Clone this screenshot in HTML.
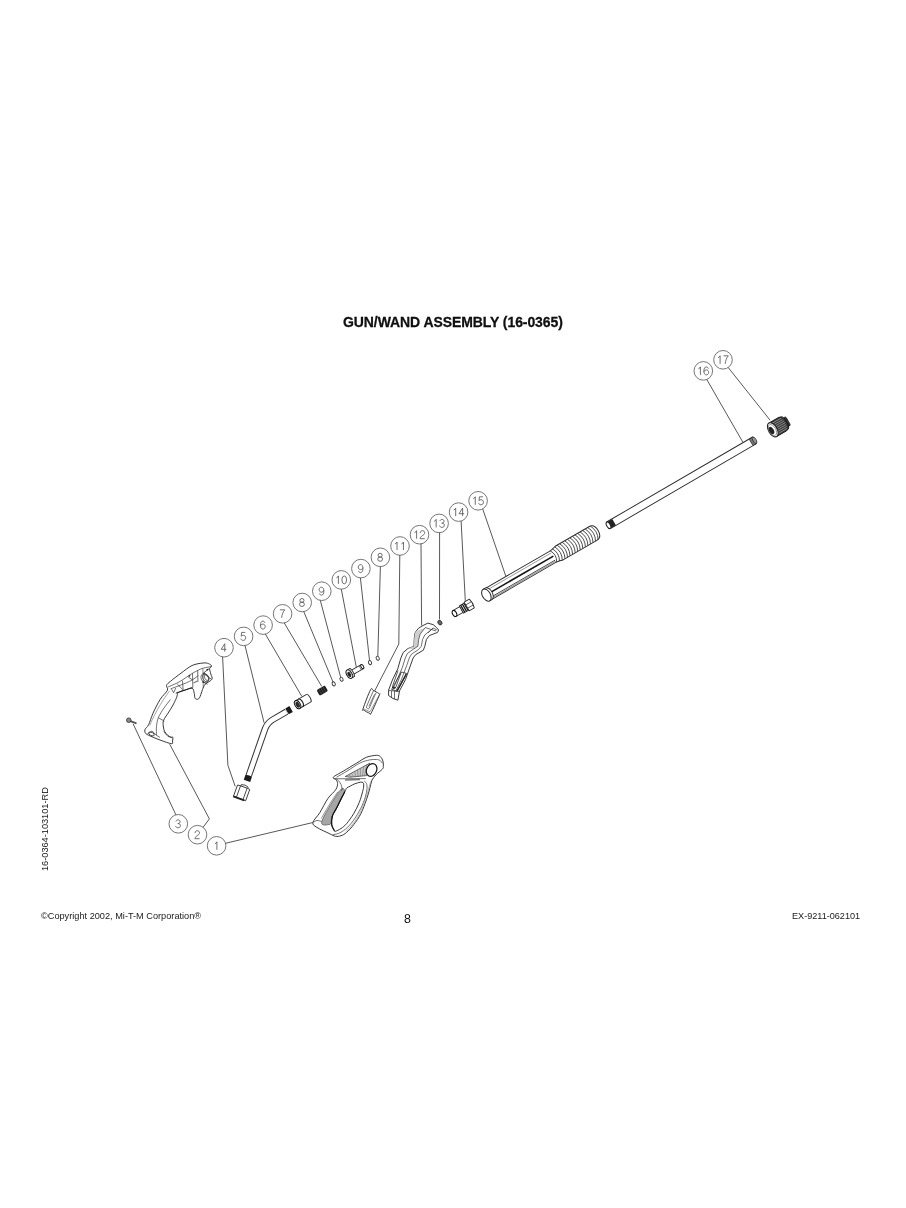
<!DOCTYPE html>
<html><head><meta charset="utf-8"><title>Gun/Wand Assembly</title>
<style>
html,body{margin:0;padding:0;background:#fff;}
body{width:906px;height:1208px;position:relative;overflow:hidden;font-family:"Liberation Sans",sans-serif;color:#111;}
.title{position:absolute;left:0;width:906px;top:314px;text-align:center;font-weight:bold;font-size:14px;line-height:16px;padding-left:0px;}
.title span{position:absolute;will-change:transform;left:343.3px;white-space:nowrap;transform:scale(1,1.05);transform-origin:0 12px;letter-spacing:-0.08px;-webkit-text-stroke:0.25px #000;}
.foot{position:absolute;will-change:transform;font-size:9.2px;line-height:11px;white-space:nowrap;color:#1a1a1a;}
.pg{position:absolute;will-change:transform;font-size:12px;line-height:14px;color:#111;}
.side{position:absolute;will-change:transform;font-size:9px;line-height:10px;white-space:nowrap;transform-origin:0 0;transform:rotate(-90deg);color:#1a1a1a;}
svg{position:absolute;left:0;top:0;will-change:transform;}
.c{fill:none;stroke:#666;stroke-width:0.9;}
.dg{fill:none;stroke:#555;stroke-width:0.85;stroke-linecap:butt;}
.l{fill:none;stroke:#3a3a3a;stroke-width:0.85;}
.p{fill:#fff;stroke:#2e2e2e;stroke-width:0.95;stroke-linejoin:round;}
.t{fill:none;stroke:#333;stroke-width:0.7;}
</style></head>
<body>
<div class="title"><span>GUN/WAND ASSEMBLY (16-0365)</span></div>
<svg width="906" height="1208" viewBox="0 0 906 1208">
<circle cx="224.0" cy="647.7" r="9.3" class="c"/>
<g class="dg" transform="translate(220.70,643.70)"><g transform="translate(0.00,0)"><path d="M4.1,8 L4.1,0 L0.5,5.6 L5.6,5.6"/></g></g>
<circle cx="243.6" cy="636.4" r="9.3" class="c"/>
<g class="dg" transform="translate(240.25,632.40)"><g transform="translate(0.00,0)"><path d="M5.0,0 L1.4,0 L0.95,3.8 C1.5,3.2 2.2,2.9 3.0,2.9 C4.4,2.9 5.4,3.9 5.4,5.4 C5.4,7 4.4,8 2.95,8 C1.8,8 0.9,7.4 0.6,6.3"/></g></g>
<circle cx="263.1" cy="625.1" r="9.3" class="c"/>
<g class="dg" transform="translate(259.80,621.10)"><g transform="translate(0.00,0)"><path d="M5.1,1.7 C4.8,0.6 4.0,0 3.1,0 C1.5,0 0.7,1.6 0.7,4.2 C0.7,6.7 1.6,8 3.1,8 C4.4,8 5.4,7 5.4,5.5 C5.4,4 4.4,3 3.2,3 C2.0,3 1.0,3.7 0.75,4.9"/></g></g>
<circle cx="282.6" cy="613.8" r="9.3" class="c"/>
<g class="dg" transform="translate(279.35,609.80)"><g transform="translate(0.00,0)"><path d="M0.6,0 L5.4,0 C3.7,2 2.6,4.8 2.3,8"/></g></g>
<circle cx="302.2" cy="602.5" r="9.3" class="c"/>
<g class="dg" transform="translate(298.90,598.50)"><g transform="translate(0.00,0)"><ellipse cx="3.05" cy="1.95" rx="2.05" ry="1.95"/><ellipse cx="3.05" cy="5.8" rx="2.4" ry="2.2"/></g></g>
<circle cx="321.8" cy="591.2" r="9.3" class="c"/>
<g class="dg" transform="translate(318.45,587.20)"><g transform="translate(0.00,0)"><path d="M1.0,6.3 C1.3,7.4 2.1,8 3.0,8 C4.6,8 5.4,6.4 5.4,3.8 C5.4,1.3 4.5,0 3.0,0 C1.7,0 0.7,1 0.7,2.5 C0.7,4 1.7,5 2.9,5 C4.1,5 5.1,4.3 5.35,3.1"/></g></g>
<circle cx="341.3" cy="579.9" r="9.3" class="c"/>
<g class="dg" transform="translate(334.80,575.90)"><g transform="translate(0.00,0)"><path d="M1.6,1.9 C2.6,1.6 3.3,0.9 3.6,0 L3.6,8"/></g><g transform="translate(6.40,0)"><ellipse cx="3.05" cy="4" rx="2.35" ry="3.95"/></g></g>
<circle cx="360.9" cy="568.6" r="9.3" class="c"/>
<g class="dg" transform="translate(357.55,564.60)"><g transform="translate(0.00,0)"><path d="M1.0,6.3 C1.3,7.4 2.1,8 3.0,8 C4.6,8 5.4,6.4 5.4,3.8 C5.4,1.3 4.5,0 3.0,0 C1.7,0 0.7,1 0.7,2.5 C0.7,4 1.7,5 2.9,5 C4.1,5 5.1,4.3 5.35,3.1"/></g></g>
<circle cx="380.4" cy="557.3" r="9.3" class="c"/>
<g class="dg" transform="translate(377.10,553.30)"><g transform="translate(0.00,0)"><ellipse cx="3.05" cy="1.95" rx="2.05" ry="1.95"/><ellipse cx="3.05" cy="5.8" rx="2.4" ry="2.2"/></g></g>
<circle cx="400.0" cy="546.0" r="9.3" class="c"/>
<g class="dg" transform="translate(393.45,542.00)"><g transform="translate(0.00,0)"><path d="M1.6,1.9 C2.6,1.6 3.3,0.9 3.6,0 L3.6,8"/></g><g transform="translate(6.40,0)"><path d="M1.6,1.9 C2.6,1.6 3.3,0.9 3.6,0 L3.6,8"/></g></g>
<circle cx="419.5" cy="534.7" r="9.3" class="c"/>
<g class="dg" transform="translate(413.00,530.70)"><g transform="translate(0.00,0)"><path d="M1.6,1.9 C2.6,1.6 3.3,0.9 3.6,0 L3.6,8"/></g><g transform="translate(6.40,0)"><path d="M0.85,2.4 C0.85,0.9 1.8,0 3.05,0 C4.4,0 5.3,0.9 5.3,2.15 C5.3,3.4 4.3,4.1 3.0,4.9 C1.6,5.8 0.85,6.8 0.75,8 L5.4,8"/></g></g>
<circle cx="439.1" cy="523.4" r="9.3" class="c"/>
<g class="dg" transform="translate(432.55,519.40)"><g transform="translate(0.00,0)"><path d="M1.6,1.9 C2.6,1.6 3.3,0.9 3.6,0 L3.6,8"/></g><g transform="translate(6.40,0)"><path d="M0.9,1.7 C1.3,0.6 2.1,0 3.05,0 C4.3,0 5.1,0.8 5.1,1.95 C5.1,3.1 4.2,3.75 2.8,3.75 C4.5,3.75 5.4,4.6 5.4,5.85 C5.4,7.1 4.4,8 3.05,8 C1.8,8 0.9,7.3 0.6,6.2"/></g></g>
<circle cx="458.6" cy="512.1" r="9.3" class="c"/>
<g class="dg" transform="translate(452.10,508.10)"><g transform="translate(0.00,0)"><path d="M1.6,1.9 C2.6,1.6 3.3,0.9 3.6,0 L3.6,8"/></g><g transform="translate(6.40,0)"><path d="M4.1,8 L4.1,0 L0.5,5.6 L5.6,5.6"/></g></g>
<circle cx="478.1" cy="500.8" r="9.3" class="c"/>
<g class="dg" transform="translate(471.65,496.80)"><g transform="translate(0.00,0)"><path d="M1.6,1.9 C2.6,1.6 3.3,0.9 3.6,0 L3.6,8"/></g><g transform="translate(6.40,0)"><path d="M5.0,0 L1.4,0 L0.95,3.8 C1.5,3.2 2.2,2.9 3.0,2.9 C4.4,2.9 5.4,3.9 5.4,5.4 C5.4,7 4.4,8 2.95,8 C1.8,8 0.9,7.4 0.6,6.3"/></g></g>
<circle cx="703.3" cy="370.9" r="9.3" class="c"/>
<g class="dg" transform="translate(696.80,366.90)"><g transform="translate(0.00,0)"><path d="M1.6,1.9 C2.6,1.6 3.3,0.9 3.6,0 L3.6,8"/></g><g transform="translate(6.40,0)"><path d="M5.1,1.7 C4.8,0.6 4.0,0 3.1,0 C1.5,0 0.7,1.6 0.7,4.2 C0.7,6.7 1.6,8 3.1,8 C4.4,8 5.4,7 5.4,5.5 C5.4,4 4.4,3 3.2,3 C2.0,3 1.0,3.7 0.75,4.9"/></g></g>
<circle cx="723.0" cy="359.8" r="9.3" class="c"/>
<g class="dg" transform="translate(716.50,355.80)"><g transform="translate(0.00,0)"><path d="M1.6,1.9 C2.6,1.6 3.3,0.9 3.6,0 L3.6,8"/></g><g transform="translate(6.40,0)"><path d="M0.6,0 L5.4,0 C3.7,2 2.6,4.8 2.3,8"/></g></g>
<circle cx="178.3" cy="823.8" r="9.3" class="c"/>
<g class="dg" transform="translate(175.00,819.80)"><g transform="translate(0.00,0)"><path d="M0.9,1.7 C1.3,0.6 2.1,0 3.05,0 C4.3,0 5.1,0.8 5.1,1.95 C5.1,3.1 4.2,3.75 2.8,3.75 C4.5,3.75 5.4,4.6 5.4,5.85 C5.4,7.1 4.4,8 3.05,8 C1.8,8 0.9,7.3 0.6,6.2"/></g></g>
<circle cx="197.5" cy="834.7" r="9.3" class="c"/>
<g class="dg" transform="translate(194.20,830.70)"><g transform="translate(0.00,0)"><path d="M0.85,2.4 C0.85,0.9 1.8,0 3.05,0 C4.4,0 5.3,0.9 5.3,2.15 C5.3,3.4 4.3,4.1 3.0,4.9 C1.6,5.8 0.85,6.8 0.75,8 L5.4,8"/></g></g>
<circle cx="216.6" cy="845.8" r="9.3" class="c"/>
<g class="dg" transform="translate(213.30,841.80)"><g transform="translate(0.00,0)"><path d="M1.6,1.9 C2.6,1.6 3.3,0.9 3.6,0 L3.6,8"/></g></g>
<path d="M728.2,367.5 L770.1,420.2" class="l"/>
<path d="M706.8,379.5 L742.8,442.1" class="l"/>
<path d="M482.7,508.9 L505.9,576.4" class="l"/>
<path d="M461.1,521.1 L465.3,600.9" class="l"/>
<path d="M439.6,532.7 L439.5,619.3" class="l"/>
<path d="M421.0,543.9 L421.6,625.5" class="l"/>
<path d="M399.8,555.3 L398.8,644.0 L374.7,690.9" class="l"/>
<path d="M380.4,566.6 L377.8,656.3" class="l"/>
<path d="M360.4,577.9 L369.5,660.2" class="l"/>
<path d="M341.3,589.2 L356.3,667.2" class="l"/>
<path d="M320.3,600.4 L340.8,677.8" class="l"/>
<path d="M303.8,611.7 L333.1,682.2" class="l"/>
<path d="M284.3,623.0 L321.7,686.4" class="l"/>
<path d="M265.4,634.1 L301.8,696.4" class="l"/>
<path d="M245.0,645.6 L264.1,722.8" class="l"/>
<path d="M222.6,656.9 L227.9,765.2 L235.2,786.4" class="l"/>
<path d="M175.9,814.8 L133.1,723.8" class="l"/>
<path d="M203.1,827.2 L209.4,818.9 L169.7,744.2" class="l"/>
<path d="M225.5,843.3 L312.9,822.5" class="l"/>
<g transform="translate(608.5,525.3) rotate(-30.2)"><rect x="0" y="-3.8" width="169" height="7.6" class="p"/><rect x="0" y="-3.6" width="6.5" height="7.2" fill="#222"/><ellipse cx="0" cy="0" rx="1.8" ry="3.6" fill="#fff" stroke="#222" stroke-width="1"/><rect x="165" y="-3.7" width="4" height="7.4" fill="#777" stroke="#333" stroke-width="0.8"/><ellipse cx="169" cy="0" rx="1.6" ry="3.6" fill="#999" stroke="#333" stroke-width="0.8"/></g>
<g transform="translate(772.8,429.8) rotate(-30)"><rect x="14" y="-5" width="3.8" height="10" rx="1.5" fill="#333" stroke="#111" stroke-width="0.6"/><path d="M0,-7.8 L11.5,-7.8 Q15.8,-7.6 15.8,-3 L15.8,3 Q15.8,7.6 11.5,7.8 L0,7.8 Z" fill="#3a3a3a" stroke="#111" stroke-width="0.8"/><line x1="1" y1="-6" x2="13.0" y2="-6" stroke="#9a9a9a" stroke-width="0.7"/><line x1="1" y1="-4" x2="13.5" y2="-4" stroke="#9a9a9a" stroke-width="0.7"/><line x1="1" y1="-2" x2="14.0" y2="-2" stroke="#9a9a9a" stroke-width="0.7"/><line x1="1" y1="0" x2="14.5" y2="0" stroke="#9a9a9a" stroke-width="0.7"/><line x1="1" y1="2" x2="14.0" y2="2" stroke="#9a9a9a" stroke-width="0.7"/><line x1="1" y1="4" x2="13.5" y2="4" stroke="#9a9a9a" stroke-width="0.7"/><line x1="1" y1="6" x2="13.0" y2="6" stroke="#9a9a9a" stroke-width="0.7"/><ellipse cx="0" cy="0" rx="4.3" ry="7.8" fill="#fff" stroke="#222" stroke-width="1.1"/><ellipse cx="-0.4" cy="0" rx="3.3" ry="6.0" fill="#fff" stroke="#777" stroke-width="0.7"/><ellipse cx="-1.5" cy="-0.1" rx="2.3" ry="4.0" fill="#222"/></g>
<g transform="translate(486.4,595.1) rotate(-30)"><path d="M0,-6.4 L76,-6.4 Q80,-6.4 84,-7.9 L123,-7.9 Q129,-7.9 129,0 Q129,7.9 123,7.9 L84,7.9 Q80,6.4 76,6.4 L0,6.4 Z" class="p"/><path d="M77.3,-6.64 Q81.5,0 77.3,6.64" stroke="#383838" stroke-width="0.8" fill="none"/><path d="M80.2,-7.20 Q84.5,0 80.2,7.20" stroke="#383838" stroke-width="0.8" fill="none"/><path d="M83.2,-7.75 Q87.4,0 83.2,7.75" stroke="#383838" stroke-width="0.8" fill="none"/><path d="M86.2,-7.90 Q90.4,0 86.2,7.90" stroke="#383838" stroke-width="0.8" fill="none"/><path d="M89.1,-7.90 Q93.3,0 89.1,7.90" stroke="#383838" stroke-width="0.8" fill="none"/><path d="M92.0,-7.90 Q96.2,0 92.0,7.90" stroke="#383838" stroke-width="0.8" fill="none"/><path d="M95.0,-7.90 Q99.2,0 95.0,7.90" stroke="#383838" stroke-width="0.8" fill="none"/><path d="M98.0,-7.90 Q102.2,0 98.0,7.90" stroke="#383838" stroke-width="0.8" fill="none"/><path d="M100.9,-7.90 Q105.1,0 100.9,7.90" stroke="#383838" stroke-width="0.8" fill="none"/><path d="M103.8,-7.90 Q108.0,0 103.8,7.90" stroke="#383838" stroke-width="0.8" fill="none"/><path d="M106.8,-7.90 Q111.0,0 106.8,7.90" stroke="#383838" stroke-width="0.8" fill="none"/><path d="M109.8,-7.90 Q114.0,0 109.8,7.90" stroke="#383838" stroke-width="0.8" fill="none"/><path d="M112.7,-7.90 Q116.9,0 112.7,7.90" stroke="#383838" stroke-width="0.8" fill="none"/><path d="M115.7,-7.90 Q119.9,0 115.7,7.90" stroke="#383838" stroke-width="0.8" fill="none"/><path d="M118.6,-7.90 Q122.8,0 118.6,7.90" stroke="#383838" stroke-width="0.8" fill="none"/><path d="M121.5,-7.90 Q125.8,0 121.5,7.90" stroke="#383838" stroke-width="0.8" fill="none"/><path d="M124.5,-7.90 Q128.7,0 124.5,7.90" stroke="#383838" stroke-width="0.8" fill="none"/><line x1="3" y1="-4.1" x2="77" y2="-4.1" stroke="#666" stroke-width="0.6"/><line x1="3" y1="-0.3" x2="77.5" y2="-0.3" stroke="#151515" stroke-width="1.6"/><line x1="3" y1="4.1" x2="77" y2="4.1" stroke="#333" stroke-width="0.8"/><line x1="3" y1="5.4" x2="77" y2="5.4" stroke="#999" stroke-width="1.3"/><path d="M0,-6.7 L2.4,-6.7 A4.0,6.7 0 0 1 2.4,6.7 L0,6.7 Z" fill="#fff" stroke="#222" stroke-width="0.9"/><ellipse cx="0" cy="0" rx="4.0" ry="6.6000000000000005" fill="#fff" stroke="#222" stroke-width="1"/></g>
<g transform="translate(454.5,613.5) rotate(-30)"><path d="M0,-3.3 L8,-3.3 L8,3.3 L0,3.3 Z" class="p"/><rect x="8" y="-4.2" width="6" height="8.4" class="p"/><line x1="9.5" y1="-4.2" x2="9.5" y2="4.2" stroke="#111" stroke-width="1.2"/><line x1="11.5" y1="-4.2" x2="11.5" y2="4.2" stroke="#111" stroke-width="1.2"/><line x1="13.3" y1="-4.2" x2="13.3" y2="4.2" stroke="#111" stroke-width="1.1"/><path d="M14,-5 L20,-5 Q21.5,0 20,5 L14,5 Z" class="p"/><line x1="14" y1="-1.8" x2="20.5" y2="-1.8" class="t"/><line x1="14" y1="2" x2="20.5" y2="2" class="t"/><ellipse cx="0" cy="0" rx="2" ry="3.3" fill="#fff" stroke="#111" stroke-width="1.1"/></g>
<ellipse cx="439.9" cy="622.6" rx="1.9" ry="2.5" transform="rotate(-30 439.9 622.6)" fill="#666" stroke="#222" stroke-width="0.8"/>
<path d="M416.3,630.9 L418.5,628.3 L422.0,626.0 L427.9,623.1 L433.3,624.7 L436.5,627.5 L438.6,630.0 L437.6,632.4 L429.5,635.5 L426.4,639.4 L424.8,646.3 L423.3,650.2 L415.5,654.8 L413.2,657.9 L410.9,664.1 L405.5,679.6 L399.5,690.9 L397.9,700.2 L393.0,698.5 L388.6,695.5 L388.6,690.1 L392.4,680.0 L397.8,668.7 L400.9,657.9 L403.2,652.5 L407.8,648.6 L414.0,646.3 L414.2,640.0 L414.8,633.5 Z" class="p"/>
<path d="M416.3,630.9 L414.8,633.5 L414.2,640.0 L414.0,646.3 L407.8,648.6 L413.4,649.2 L417.9,646.3 L418.6,639.8 L420.1,634.2 L425.0,627.9 Z" fill="#cfcfcf" stroke="none"/>
<path d="M425.0,627.9 L420.1,634.2 L418.6,639.8 L417.9,646.3 L413.4,649.2 L407.6,653.3 L405.3,657.9 L402.5,667.0 L397.1,679.9 L392.5,690.4" class="t"/>
<path d="M432.8,628.4 L424.8,634.9 L422.5,639.6 L421.3,646.3 L418.3,649.7 L411.6,654.1 L409.3,657.9 L406.7,665.6 L401.3,679.7 L396.0,690.6" class="t"/>
<path d="M401.2,672.0 L406.6,673.4 L397.0,691.2 L391.6,689.4 Z" fill="none" stroke="#333" stroke-width="0.8"/>
<path d="M406.4,673.8 L397.0,691.2" fill="none" stroke="#222" stroke-width="1.4"/>
<path d="M398,670.5 L392.6,686.2 Q392.4,688.6 394.4,688.4 Q395.6,688 396.2,686.4 L401.2,672.3" fill="none" stroke="#333" stroke-width="0.8"/>
<path d="M392.8,686.6 Q393,688.8 395.6,687.3" fill="none" stroke="#222" stroke-width="1.4"/>
<path d="M389,690.5 L399.5,691.5" class="t"/><path d="M391.5,690.8 L391.5,697" class="t"/><path d="M394.5,691 L394.5,699" class="t"/>
<path d="M425,627.5 L436,631" class="t"/><path d="M428,633 L433,628 L437,630" class="t"/>
<path d="M370.5,689.8 C372.2,686.8 372.2,689.9 373.2,690.3 C374.2,690.7 375.7,691.6 376.7,692.2 C377.7,692.8 379.0,693.5 379.4,694.0 C379.8,694.5 380.5,692.4 379.2,695.5 C377.9,698.6 372.9,709.8 371.3,712.8 C369.7,715.8 371.1,713.9 369.8,713.4 C368.5,712.9 364.7,710.8 363.6,710.0 C362.5,709.2 362.0,712.0 363.1,708.6 C364.2,705.2 368.8,692.8 370.5,689.8 Z" class="p"/>
<path d="M373.4,690.8 C372.8,692.2 370.9,696.4 369.8,699.0 C368.7,701.6 367.0,705.0 366.6,706.6 C366.2,708.2 367.2,708.4 367.6,708.6 C368.1,708.8 368.5,709.4 369.3,708.0 C370.1,706.6 371.6,702.6 372.7,700.0 C373.8,697.4 375.6,693.8 376.2,692.6" class="t"/>
<path d="M374.6,694.2 L368.9,706.4" stroke="#777" stroke-width="0.9" fill="none"/>
<path d="M363.2,708.8 L370.0,711.7 L379.3,695.0" stroke="#555" stroke-width="0.6" fill="none"/>
<g transform="translate(349.3,674.1) rotate(-30)"><rect x="3" y="-2.3" width="12" height="4.6" class="p"/><ellipse cx="15" cy="0" rx="1.3" ry="2.3" fill="#fff" stroke="#111" stroke-width="1"/><line x1="12.5" y1="-2.3" x2="12.5" y2="2.3" stroke="#444" stroke-width="0.6"/><path d="M0,-4.6 L3.5,-4.6 Q5.3,0 3.5,4.6 L0,4.6 Z" class="p"/><ellipse cx="0" cy="0" rx="2.6" ry="4.6" fill="#fff" stroke="#111" stroke-width="1"/><ellipse cx="-0.2" cy="0.3" rx="1.6" ry="2.8" fill="#222"/><line x1="2" y1="-4.4" x2="2" y2="4.4" stroke="#666" stroke-width="0.6"/></g>
<ellipse cx="333.7" cy="683.9" rx="1.5" ry="2.1" transform="rotate(-25 333.7 683.9)" fill="#fff" stroke="#333" stroke-width="0.9"/>
<ellipse cx="341.5" cy="679.2" rx="1.5" ry="2.1" transform="rotate(-25 341.5 679.2)" fill="#fff" stroke="#333" stroke-width="0.9"/>
<ellipse cx="370.0" cy="662.6" rx="1.5" ry="2.1" transform="rotate(-25 370.0 662.6)" fill="#fff" stroke="#333" stroke-width="0.9"/>
<ellipse cx="377.7" cy="658.2" rx="1.5" ry="2.1" transform="rotate(-25 377.7 658.2)" fill="#fff" stroke="#333" stroke-width="0.9"/>
<g transform="translate(322.3,690.6) rotate(-30)"><rect x="-4.8" y="-3.3" width="9.6" height="6.6" rx="1.6" fill="#1e1e1e"/><line x1="-2.4" y1="-3" x2="-2.4" y2="3" stroke="#666" stroke-width="0.5"/><line x1="0" y1="-3" x2="0" y2="3" stroke="#666" stroke-width="0.5"/><line x1="2.4" y1="-3" x2="2.4" y2="3" stroke="#666" stroke-width="0.5"/></g>
<g transform="translate(297.6,704.6) rotate(-30)"><path d="M0,-4.4 L12.4,-4.4 A2,4.4 0 0 1 12.4,4.4 L0,4.4 Z" class="p"/><path d="M3.2,-4.4 A2.4,4.4 0 0 1 3.2,4.4" fill="none" stroke="#222" stroke-width="1.2"/><ellipse cx="0" cy="0" rx="2.6" ry="4.5" fill="#fff" stroke="#111" stroke-width="1"/><ellipse cx="0" cy="0.2" rx="1.8" ry="3.2" fill="#2a2a2a"/></g>
<path d="M248.8,775.5 L265.2,728.5 Q267.4,722.8 273,719.5 L286.5,711.7" fill="none" stroke="#333" stroke-width="6.6"/>
<path d="M248.8,775.5 L265.2,728.5 Q267.4,722.8 273,719.5 L286.5,711.7" fill="none" stroke="#fff" stroke-width="4.6"/>
<g transform="translate(287.0,711.4) rotate(-30)"><rect x="0" y="-3.4" width="4.8" height="6.8" fill="#1a1a1a"/></g>
<g transform="translate(248.8,775.5) rotate(109.2)"><rect x="0" y="-3.4" width="5.6" height="6.8" fill="#1a1a1a"/></g>
<g transform="translate(241.6,792.9) rotate(20)"><path d="M-3.2,-6 L-3.2,-7.6 Q0.5,-9.4 4.2,-7.6 L4.2,-6" fill="#fff" stroke="#333" stroke-width="0.8"/><path d="M-6.5,-6 L-3.2,-6.3 L4.2,-6.3 L6.5,-6 L6.5,6 L-6.5,6 Z" fill="#fff" stroke="#333" stroke-width="0.85" stroke-linejoin="round"/><line x1="-3.4" y1="-6.2" x2="-3.4" y2="6" stroke="#333" stroke-width="0.8"/><line x1="3.6" y1="-6.2" x2="3.6" y2="6" stroke="#333" stroke-width="0.8"/><line x1="-6.6" y1="6.1" x2="5" y2="6.1" stroke="#222" stroke-width="1.8"/></g>
<line x1="129" y1="720.6" x2="135.8" y2="723.2" stroke="#555" stroke-width="1.8" stroke-linecap="round"/>
<circle cx="128.8" cy="720.2" r="2.3" fill="#888" stroke="#333" stroke-width="0.8"/>
<path d="M166.5,685.5 C167.0,684.0 168.1,683.3 170.5,681.3 C172.9,679.2 177.4,675.8 181.0,673.2 C184.6,670.6 188.4,667.2 192.1,665.5 C195.8,663.8 200.4,663.3 203.1,663.0 C205.8,662.7 207.1,663.1 208.5,663.6 C209.9,664.1 211.4,665.2 211.6,666.0 C211.8,666.8 209.7,667.3 209.6,668.6 C209.5,669.9 210.4,672.2 210.8,674.0 C211.2,675.8 212.8,677.6 211.9,679.3 C211.0,681.0 206.8,682.6 205.3,684.1 C203.8,685.6 203.8,686.4 203.1,688.1 C202.3,689.8 201.4,692.9 200.8,694.5 C200.2,696.1 200.0,697.0 199.5,697.8 C199.0,698.6 198.3,699.2 197.6,699.3 C196.8,699.4 195.6,699.2 195.0,698.2 C194.4,697.2 194.8,695.3 194.3,693.6 C193.8,691.9 193.7,688.7 192.1,688.1 C190.5,687.5 186.8,689.6 184.5,690.3 C182.2,691.0 179.6,691.3 178.3,692.5 C177.0,693.7 177.6,695.2 176.6,697.5 C175.6,699.8 173.9,703.4 172.5,706.0 C171.1,708.6 169.3,711.1 168.0,713.2 C166.7,715.3 165.3,717.0 164.5,718.5 C163.7,720.0 163.3,720.7 163.1,722.1 C162.9,723.5 163.2,725.4 163.4,727.0 C163.7,728.6 163.8,730.1 164.6,731.5 C165.4,732.9 166.9,734.5 168.0,735.5 C169.1,736.5 170.4,737.2 171.2,737.5 C172.0,737.8 172.6,736.5 172.8,737.1 C173.0,737.7 172.7,739.9 172.5,741.0 C172.3,742.1 173.6,743.9 171.5,743.7 C169.4,743.5 163.8,741.4 160.0,740.0 C156.2,738.6 151.1,736.5 148.6,735.3 C146.1,734.1 145.8,733.7 145.2,732.7 C144.6,731.7 144.6,730.4 145.2,729.1 C145.8,727.8 147.3,727.4 148.6,724.7 C149.9,722.1 151.1,717.5 153.0,713.2 C154.9,709.0 157.9,703.0 160.3,699.2 C162.7,695.4 166.4,692.6 167.4,690.3 C168.4,688.0 166.0,687.0 166.5,685.5 Z" class="p"/>
<path d="M167.6,687.0 C168.0,686.9 167.9,687.0 170.0,686.1 C172.1,685.2 176.1,683.7 179.9,681.5 C183.8,679.3 189.2,675.1 193.1,672.9 C196.9,670.7 199.9,669.2 203.0,668.2 C206.1,667.2 210.2,666.9 211.7,666.6" class="t"/>
<path d="M170.5,699.5 C169.4,700.9 166.0,705.0 164.0,708.0 C162.0,711.0 159.6,714.6 158.3,717.7 C157.1,720.8 156.8,723.6 156.5,726.5 C156.2,729.4 156.5,733.8 156.5,735.3" class="t"/>
<path d="M158.3,717.7 L164.4,721.2" class="t"/>
<path d="M169.5,691.0 C168.5,692.4 165.5,696.4 163.5,699.5 C161.5,702.6 159.3,706.2 157.5,709.5 C155.7,712.8 153.8,716.3 152.5,719.0 C151.2,721.7 150.2,724.4 149.8,725.5" stroke="#666" stroke-width="0.6" fill="none"/>
<path d="M170.6,688.8 C172.3,688.2 177.5,686.4 181.0,685.0 C184.5,683.6 188.9,681.8 191.8,680.2 C194.7,678.6 197.3,676.3 198.4,675.5" class="t"/>
<path d="M175.8,693.2 L184.0,690.4 L192.5,687.6" fill="none" stroke="#222" stroke-width="1.0"/>
<path d="M182.5,680.8 L183.2,690.6" class="t"/><path d="M192.5,673.2 L192.8,687.6" class="t"/>
<path d="M197.7,670.4 L197.9,682.0" class="t"/>
<path d="M177.2,684.0 L182.8,689.6" class="t"/><path d="M188.0,676.8 L192.2,679.8" class="t"/>
<path d="M171.6,689.2 L173.6,692.8 L175.8,688.0" class="t"/>
<circle cx="189.5" cy="675.8" r="0.9" fill="#222"/>
<path d="M193.5,683.0 L197.5,681.0" stroke="#777" stroke-width="1.2" fill="none"/>
<path d="M202.9,668.5 L203.3,688.0" stroke="#555" stroke-width="0.7" fill="none"/>
<path d="M209.5,668.4 L203.2,673.2 L211.4,679.3" stroke="#333" stroke-width="0.8" fill="none"/>
<path d="M203.5,682.2 L207.5,684.2" stroke="#333" stroke-width="0.8" fill="none"/>
<circle cx="207.3" cy="669.6" r="0.9" fill="#222"/><circle cx="203.3" cy="682.0" r="1.0" fill="#222"/><circle cx="204.4" cy="673.3" r="0.8" fill="#333"/>
<ellipse cx="204.8" cy="678.2" rx="3.6" ry="4.8" transform="rotate(-25 204.8 678.2)" fill="none" stroke="#444" stroke-width="0.7"/>
<ellipse cx="205.7" cy="677.8" rx="2.8" ry="4.0" transform="rotate(-25 205.7 677.8)" fill="none" stroke="#444" stroke-width="0.7"/>
<ellipse cx="206.6" cy="677.4" rx="2.0" ry="3.2" transform="rotate(-25 206.6 677.4)" fill="none" stroke="#444" stroke-width="0.7"/>
<path d="M147.5,733.5 L152.0,731.0 L156.5,735.3 L160.0,737.5" class="t"/>
<ellipse cx="151.5" cy="734" rx="3" ry="1.6" transform="rotate(25 151.5 734)" fill="none" stroke="#333" stroke-width="0.8"/>
<path d="M163.6,731.5 L168.0,736.5 L172.0,737.2" class="t"/>
<path d="M333.3,777.2 C334.5,775.8 339.3,773.5 343.2,771.2 C347.1,768.9 352.6,765.5 356.5,763.2 C360.4,760.9 363.1,758.6 366.4,757.3 C369.7,756.0 374.1,755.4 376.4,755.3 C378.7,755.2 379.2,755.6 380.3,756.6 C381.4,757.6 382.5,759.6 383.0,761.3 C383.5,763.0 383.4,765.3 383.3,766.6 C383.2,767.9 383.6,767.8 382.3,769.2 C381.1,770.6 377.5,773.1 375.8,775.0 C374.1,776.9 372.9,778.2 371.9,780.5 C370.9,782.8 370.6,785.6 369.7,788.8 C368.8,792.0 367.9,795.7 366.4,799.8 C364.9,803.9 363.0,809.5 360.9,813.6 C358.8,817.8 356.1,821.6 353.7,824.7 C351.3,827.8 348.7,830.6 346.6,832.4 C344.5,834.2 342.9,835.1 341.0,835.7 C339.1,836.4 337.4,836.6 335.5,836.3 C333.6,836.0 332.9,835.3 329.8,833.8 C326.7,832.3 319.7,829.3 316.9,827.4 C314.1,825.5 312.4,825.0 312.9,822.5 C313.4,820.0 317.4,816.5 319.9,812.5 C322.4,808.5 325.2,802.4 327.8,798.6 C330.4,794.8 334.1,792.2 335.7,789.7 C337.3,787.2 337.6,785.2 337.6,783.5 C337.6,781.8 336.5,780.5 335.8,779.5 C335.1,778.5 332.1,778.6 333.3,777.2 Z" class="p"/>
<path d="M364.2,781.1 C364.6,781.5 365.9,782.0 366.4,783.3 C366.9,784.6 367.2,786.5 367.0,788.8 C366.8,791.1 366.3,793.9 365.3,797.1 C364.3,800.3 362.9,804.2 360.9,808.1 C358.9,812.0 355.8,817.3 353.2,820.8 C350.6,824.3 348.0,827.0 345.5,829.1 C343.0,831.2 340.4,832.6 338.3,833.5 C336.2,834.4 333.7,834.4 332.8,834.6" class="t"/>
<path d="M374.3,776.5 C373.7,777.3 371.8,779.4 370.8,781.5 C369.9,783.6 369.5,786.0 368.6,789.0 C367.7,792.0 366.8,795.5 365.4,799.5 C364.0,803.5 362.1,808.9 360.0,813.0 C357.9,817.1 355.2,820.9 352.8,824.0 C350.4,827.1 347.0,830.2 345.8,831.5" fill="none" stroke="#888" stroke-width="0.6"/>
<path d="M339.7,790.7 C343.5,785.7 344.8,790.1 344.9,791.6 C345.0,793.1 341.9,797.2 340.5,800.0 C339.1,802.8 338.0,805.4 336.6,808.1 C335.2,810.8 333.1,814.2 332.2,816.4 C331.3,818.5 331.6,819.7 331.2,821.0 C330.8,822.3 331.4,824.3 329.8,824.4 C328.2,824.5 320.2,827.1 321.8,821.5 C323.4,815.9 335.9,795.7 339.7,790.7 Z" fill="#a6a6a6" stroke="#444" stroke-width="0.6"/>
<path d="M337.8,791.8 C336.7,793.5 333.1,798.6 331.0,802.0 C328.9,805.4 326.6,809.2 325.0,812.0 C323.4,814.8 321.8,817.5 321.2,818.6" stroke="#444" stroke-width="0.6" fill="none"/>
<path d="M334.4,830.7 C333.8,829.6 332.1,827.1 331.7,824.7 C331.3,822.3 331.4,819.2 332.2,816.4 C333.0,813.6 334.5,812.2 336.6,808.1 C338.7,804.0 343.2,794.9 344.9,791.6 C346.6,788.3 345.7,789.1 346.6,788.2 C347.5,787.3 349.0,786.7 350.4,786.0 C351.8,785.3 353.1,784.4 354.8,783.8 C356.5,783.2 359.0,782.4 360.4,782.2 C361.8,782.0 362.6,782.1 363.1,782.7 C363.7,783.3 363.8,784.5 363.7,786.0 C363.6,787.5 363.4,788.8 362.6,791.6 C361.9,794.4 360.7,798.9 359.2,802.6 C357.7,806.3 355.8,810.1 353.7,813.6 C351.6,817.1 348.7,821.1 346.6,823.6 C344.5,826.1 342.9,827.2 341.0,828.5 C339.1,829.8 336.6,830.9 335.5,831.3 C334.4,831.7 335.0,831.8 334.4,830.7 Z" fill="#fff" stroke="#222" stroke-width="0.9"/>
<path d="M344.9,791.6 C344.2,793.0 341.9,797.2 340.5,800.0 C339.1,802.8 337.9,805.5 336.6,808.1 C335.3,810.7 333.4,812.7 332.6,815.5 C331.8,818.3 331.4,822.2 331.7,824.7 C332.0,827.2 333.9,829.7 334.4,830.7" fill="none" stroke="#111" stroke-width="1.2"/>
<path d="M335.5,778.3 C336.0,778.7 337.4,779.5 338.3,780.5 C339.2,781.5 340.4,783.0 341.0,784.4 C341.6,785.8 342.0,787.8 342.1,788.8 C342.2,789.8 341.6,790.4 341.5,790.7" class="t"/>
<path d="M313.5,822.3 C314.1,822.0 315.5,820.6 316.9,820.5 C318.3,820.4 321.0,821.3 321.8,821.5" class="t"/>
<path d="M336.6,777.2 C338.5,776.1 344.1,772.9 348.0,770.5 C351.9,768.1 356.4,764.8 360.0,763.0 C363.6,761.2 366.9,760.5 369.7,759.9 C372.4,759.3 374.7,759.4 376.5,759.5 C378.3,759.6 379.3,760.0 380.3,760.6 C381.3,761.2 382.0,762.8 382.3,763.2" class="t"/>
<path d="M334.0,778.8 L365.8,778.6" class="t"/>
<path d="M345.2,776.5 L369.7,763.2 L366.5,775.6 L349.9,777.2 Z" fill="#c8c8c8" stroke="#333" stroke-width="0.7"/>
<line x1="348.3" y1="774.8" x2="352.0" y2="777.0" stroke="#666" stroke-width="0.5"/>
<line x1="351.3" y1="773.2" x2="354.0" y2="776.8" stroke="#666" stroke-width="0.5"/>
<line x1="354.4" y1="771.5" x2="356.1" y2="776.6" stroke="#666" stroke-width="0.5"/>
<line x1="357.4" y1="769.9" x2="358.2" y2="776.4" stroke="#666" stroke-width="0.5"/>
<line x1="360.5" y1="768.2" x2="360.3" y2="776.2" stroke="#666" stroke-width="0.5"/>
<line x1="363.6" y1="766.5" x2="362.4" y2="776.0" stroke="#666" stroke-width="0.5"/>
<line x1="366.6" y1="764.9" x2="364.4" y2="775.8" stroke="#666" stroke-width="0.5"/>
<ellipse cx="371.6" cy="770" rx="5" ry="6.6" transform="rotate(25 371.6 770)" fill="#fff" stroke="#111" stroke-width="1.2"/>
<path d="M345.0,780.0 L352.0,779.8 L360.0,779.5" fill="none" stroke="#777" stroke-width="1.6"/>
</svg>
<div class="side" style="left:40.2px;top:871.4px;font-size:9.2px;">16-0364-103101-RD</div>
<div class="foot" style="left:41px;top:910.8px;font-size:9.2px;">©Copyright 2002, Mi-T-M Corporation®</div>
<div class="pg" style="left:403.6px;top:911.5px;font-size:12.4px;">8</div>
<div class="foot" style="left:792.3px;top:911.3px;font-size:9.1px;">EX-9211-062101</div>
</body></html>
